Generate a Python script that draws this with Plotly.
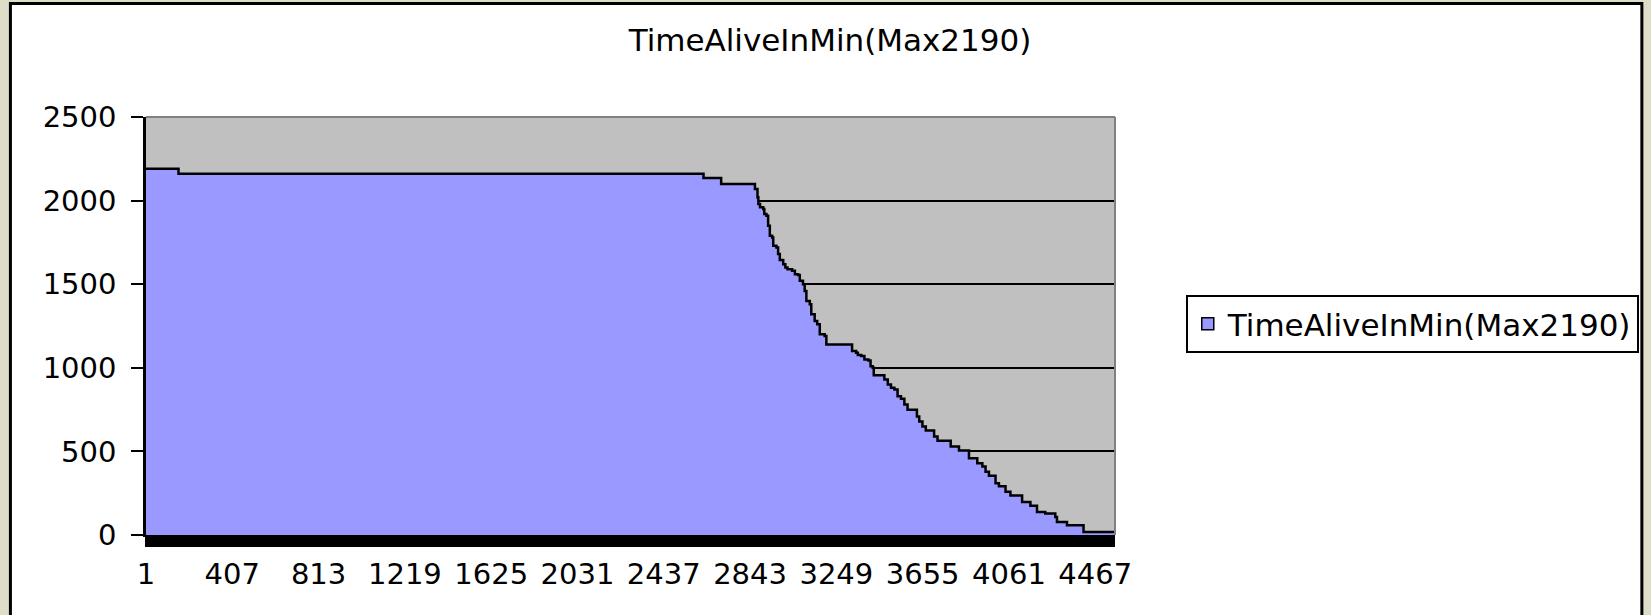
import numpy as np
import plotly.graph_objects as go

# ---------------- data ----------------
series_name = "TimeAliveInMin(Max2190)"
n_categories = 4560
# first category of each flat run, and the value held by that run
step_start = [1, 154, 2624, 2707, 2866, 2878, 2882, 2890, 2905, 2910,
              2920, 2928, 2936, 2947, 2952, 2967, 2975, 2983, 2999, 3009,
              3019, 3041, 3054, 3069, 3077, 3092, 3100, 3108, 3124, 3131,
              3147, 3159, 3171, 3194, 3202, 3323, 3342, 3350, 3366, 3381,
              3400, 3410, 3420, 3425, 3475, 3491, 3506, 3522, 3537, 3553,
              3569, 3584, 3628, 3639, 3654, 3670, 3709, 3725, 3787, 3826,
              3873, 3912, 3936, 3951, 3967, 3998, 4014, 4045, 4068, 4123,
              4162, 4193, 4232, 4279, 4287, 4334, 4412]
step_value = [2190, 2160, 2135, 2100, 2070, 2020, 1980, 1960, 1950, 1920,
              1910, 1850, 1790, 1780, 1730, 1720, 1680, 1645, 1620, 1600,
              1590, 1580, 1560, 1555, 1520, 1500, 1460, 1400, 1380, 1320,
              1280, 1260, 1200, 1190, 1140, 1100, 1090, 1076, 1070, 1050,
              1044, 1010, 1000, 956, 930, 900, 880, 870, 830, 815,
              780, 749, 709, 679, 649, 625, 589, 563, 529, 505,
              459, 429, 409, 379, 355, 309, 292, 258, 236, 198,
              175, 138, 128, 108, 78, 58, 18]
x_tick_labels = ["1", "407", "813", "1219", "1625", "2031", "2437",
                 "2843", "3249", "3655", "4061", "4467"]
y_tick_values = [0, 500, 1000, 1500, 2000, 2500]

# run-length decode: one value per category
run_lengths = np.diff(step_start + [n_categories + 1])
categories = np.arange(1, n_categories + 1)
values = np.repeat(step_value, run_lengths)

# ---------------- layout constants ----------------
W, H = 1651, 615
L, R, T, B = 146, 533, 117, 80
PW, PH = W - L - R, H - T - B
FONT = "DejaVu Sans"


def px(xp):
    return (xp - L) / PW


def py(yp):
    return (H - B - yp) / PH


fig = go.Figure()
fig.add_trace(go.Scatter(
    x=categories, y=values, mode="lines",
    line=dict(color="black", width=2.5, shape="hv"),
    fill="tozeroy", fillcolor="#9999ff",
    showlegend=False, hoverinfo="skip"))
# legend entry (square swatch like the original)
fig.add_trace(go.Bar(
    x=[None], y=[None], name=series_name,
    marker=dict(color="#9999ff", line=dict(color="black", width=1.5)),
    showlegend=True))

shapes = [
    # white chart area with black frame
    dict(type="rect", xref="paper", yref="paper",
         x0=px(10), x1=px(1646.5), y0=py(3.5), y1=py(640),
         fillcolor="white", line=dict(color="black", width=3), layer="below"),
    # grey plot area
    dict(type="rect", xref="x domain", yref="y domain", x0=0, x1=1, y0=0, y1=1,
         fillcolor="#c0c0c0", line=dict(width=0), layer="below"),
    # grey plot border, top and right
    dict(type="line", xref="x domain", yref="y domain", x0=0, x1=1, y0=1, y1=1,
         line=dict(color="#808080", width=2), layer="above"),
    dict(type="line", xref="x domain", yref="y domain", x0=1, x1=1, y0=0, y1=1,
         line=dict(color="#808080", width=2), layer="above"),
]

fig.update_layout(
    width=W, height=H,
    margin=dict(l=L, r=R, t=T, b=B, pad=0),
    paper_bgcolor="#dedec8",
    plot_bgcolor="rgba(0,0,0,0)",
    font=dict(family=FONT, color="black", size=29),
    showlegend=True,
    title=dict(text=series_name, x=830 / W, y=1 - 40 / H,
               xref="container", yref="container",
               xanchor="center", yanchor="middle",
               font=dict(family=FONT, size=31, color="black")),
    legend=dict(x=px(1189), y=py(324), xanchor="left", yanchor="middle",
                bgcolor="white", bordercolor="black", borderwidth=2,
                font=dict(family=FONT, size=31, color="black")),
    shapes=shapes,
    bargap=0,
)

fig.update_xaxes(
    range=[1, n_categories],
    tickmode="array",
    tickvals=[int(t) for t in x_tick_labels],
    ticktext=x_tick_labels,
    ticks="outside", ticklen=10, tickwidth=1, tickcolor="black",
    showline=True, linecolor="black", linewidth=2,
    showgrid=False, zeroline=False,
    minor=dict(tick0=1, dtick=5, ticks="outside", ticklen=10,
               tickwidth=1.5, tickcolor="black", showgrid=False),
    tickfont=dict(family=FONT, size=29, color="black"),
    ticklabelstandoff=2,
)
fig.update_yaxes(
    range=[0, 2500],
    tickmode="array", tickvals=y_tick_values,
    ticktext=[str(v) for v in y_tick_values],
    ticks="outside", ticklen=12, tickwidth=2, tickcolor="black",
    showline=True, linecolor="black", linewidth=2.5,
    showgrid=True, gridcolor="black", gridwidth=1.5,
    zeroline=False,
    tickfont=dict(family=FONT, size=29, color="black"),
    ticklabelstandoff=9,
)

fig.write_html("out.html", config={"displayModeBar": False},
               post_script="document.body.style.margin='0px';")
